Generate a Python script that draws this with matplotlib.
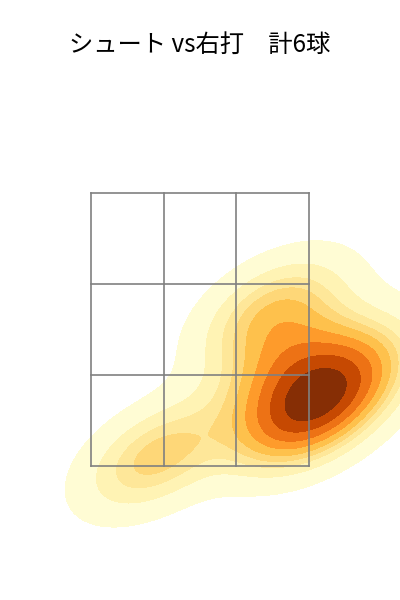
import numpy as np
import matplotlib
matplotlib.use('Agg')
import matplotlib.pyplot as plt
import seaborn as sns

# pitch locations (zone units: each cell = 1)
px = [2.92, 3.07, 2.5, 2.75, 0.9, 3.5]
pz = [0.62, 0.57, 1.7, 1.15, 0.1, 1.0]

title = 'シュート vs右打　計6球'

fig = plt.figure(figsize=(4, 6), dpi=100)
ax = fig.add_axes([0, 0, 1, 1])

sns.kdeplot(x=px, y=pz, fill=True, cmap='YlOrBr', ax=ax)

# strike zone 3x3
for i in range(4):
    ax.plot([i, i], [0, 3], color='grey', lw=1.2)
    ax.plot([0, 3], [i, i], color='grey', lw=1.2)

ax.set_xlim(-1.252, 4.252)
ax.set_ylim(-1.473, 5.121)
ax.axis('off')

fig.text(0.5, 0.926, title, ha='center', va='center', fontsize=17.5,
         family=['Noto Sans CJK JP', 'DejaVu Sans'])

fig.savefig('out.png')
